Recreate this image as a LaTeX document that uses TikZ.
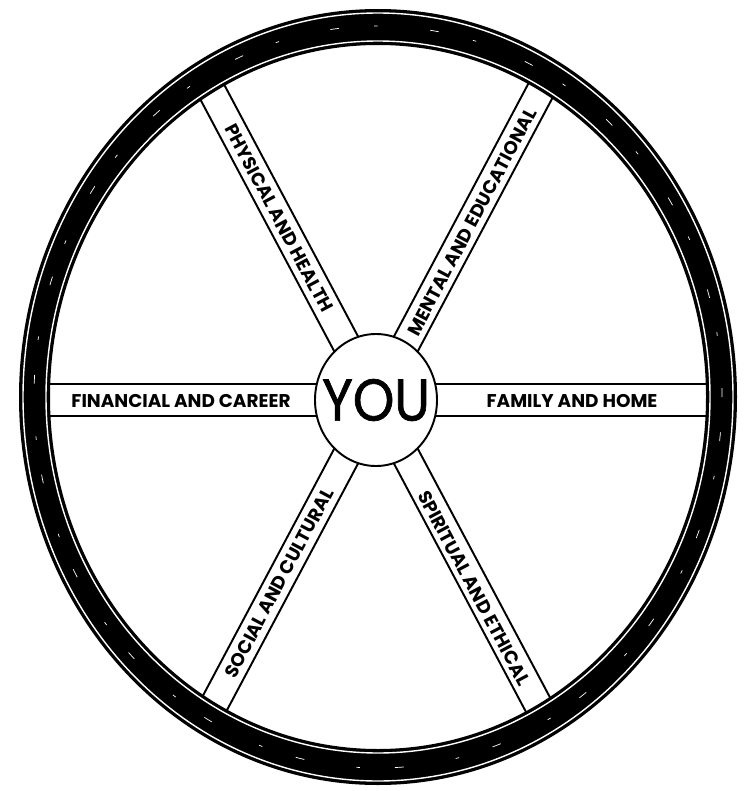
\documentclass[tikz,border=0pt]{standalone}
\usepackage{fontspec}
\setmainfont{Poppins}
\newfontfamily\youfont{Poppins}[FakeBold=1.2]
\usetikzlibrary{shapes.geometric}

\begin{document}
\begin{tikzpicture}[x=0.02cm,y=0.02cm,
    spoke/.style={black,line width=1.1pt},
    rimline/.style={white,line width=0.8pt},
    lab/.style={font=\fontsize{10.5}{12}\selectfont\bfseries,inner sep=0pt}]
  \useasboundingbox (0,0) rectangle (751,-791);
  \coordinate (c) at (376,-400);
  \coordinate (w) at (378,-397);
  % spokes, cut at the inside of the rim
  \begin{scope}
    \clip (w) ellipse [x radius=333, y radius=357];
    \foreach \a/\h in {0/16,62/14,118/14} {
      \begin{scope}[shift={(376,-400)},rotate=\a]
        \draw[spoke] (-500,\h) -- (500,\h);
        \draw[spoke] (-500,-\h) -- (500,-\h);
      \end{scope}
    }
  \end{scope}
  % rim
  \fill[black,even odd rule] (w) ellipse [x radius=359, y radius=388]
    (w) ellipse [x radius=328, y radius=352];
  \draw[rimline] (w) ellipse [x radius=355, y radius=384];
  \draw[rimline] (w) ellipse [x radius=332, y radius=356];
  \draw[white,line width=0.4pt,dash pattern=on 5pt off 30pt on 2pt off 20pt]
    (w) ellipse [x radius=344, y radius=371];
  % hub
  \filldraw[fill=white,line width=1.1pt] (c) ellipse [x radius=61, y radius=66];
  \node[inner sep=0pt] (you) at (c)
    {\scalebox{1}[1.12]{\youfont\fontsize{30}{30}\selectfont YOU}};
  % labels on the spokes
  \node[lab] (fin) at (181,-401) {FINANCIAL AND CAREER};
  \node[lab] (fam) at (572,-401) {FAMILY AND HOME};
  \node[lab,rotate=-62] (phy) at (279,-218) {PHYSICAL AND HEALTH};
  \node[lab,rotate=62] (men) at (472,-222) {MENTAL AND EDUCATIONAL};
  \node[lab,rotate=62] (soc) at (279,-583) {SOCIAL AND CULTURAL};
  \node[lab,rotate=-62] (spi) at (474,-588) {SPIRITUAL AND ETHICAL};
\end{tikzpicture}
\end{document}
